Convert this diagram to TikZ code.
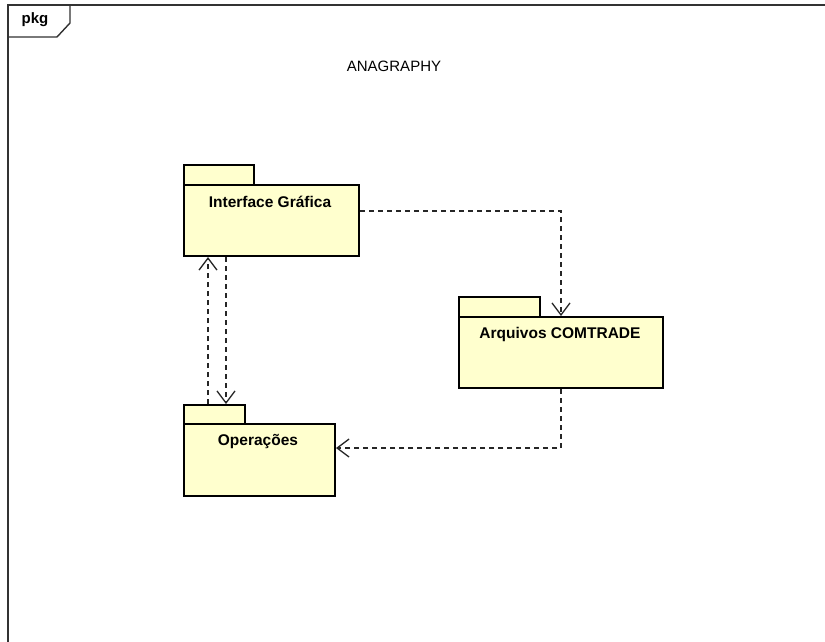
\documentclass[tikz,border=0pt]{standalone}
\usepackage{fontspec}
\setmainfont{Liberation Sans}
\usetikzlibrary{arrows.meta,calc}
\definecolor{pkgfill}{RGB}{255,255,206}
\definecolor{framecol}{RGB}{50,50,50}
\begin{document}
\begin{tikzpicture}[x=1pt,y=-1pt,
  pkgbody/.style={draw=black,line width=2pt,fill=pkgfill,rectangle,anchor=north west,inner sep=0pt},
  pkgname/.style={font=\fontsize{15.5}{18}\selectfont\bfseries,anchor=center,inner sep=0pt},
  dep/.style={draw=black!85,line width=1.3pt,dash pattern=on 5pt off 4pt,-{Straight Barb[length=12pt,width=18pt,line width=1.3pt]}}
]
\useasboundingbox (0,0) rectangle (825,641);
\fill[white] (0,0) rectangle (825,641);
% frame
\draw[framecol,line width=1.8pt] (8,650) -- (8,5) -- (830,5);
\draw[framecol,line width=1.4pt] (70,5) -- (70,23) -- (57,37) -- (8,37);
\node[font=\fontsize{15}{17}\selectfont\bfseries,inner sep=0pt] (pkg) at (35,20) {pkg};
\node[font=\fontsize{15}{17}\selectfont,inner sep=0pt] (title) at (394,66) {ANAGRAPHY};
% Interface Grafica
\node[pkgbody,minimum width=70pt,minimum height=20pt] (igtab) at (183,164) {};
\node[pkgbody,minimum width=175pt,minimum height=71pt] (ig) at (183,184) {};
\node[pkgname] (iglabel) at (270,202) {Interface Gráfica};
% Arquivos COMTRADE
\node[pkgbody,minimum width=81pt,minimum height=20pt] (actab) at (458,296) {};
\node[pkgbody,minimum width=204pt,minimum height=71pt] (ac) at (458,316) {};
\node[pkgname] (aclabel) at (560,334) {Arquivos COMTRADE};
% Operacoes
\node[pkgbody,minimum width=61pt,minimum height=19pt] (optab) at (183,404) {};
\node[pkgbody,minimum width=151pt,minimum height=72pt] (op) at (183,423) {};
\node[pkgname] (oplabel) at (258,442) {Operações};
% dependencies
\draw[dep] ([yshift=-27pt]ig.north east) -| (ac.north);
\draw[dep] (ac.south) |- ([yshift=-25pt]op.north east);
\draw[dep] ([xshift=43pt]ig.south west) -- ([xshift=43pt]optab.north west);
\draw[dep] ([xshift=25pt]optab.north west) -- ([xshift=25pt]ig.south west);
\end{tikzpicture}
\end{document}
